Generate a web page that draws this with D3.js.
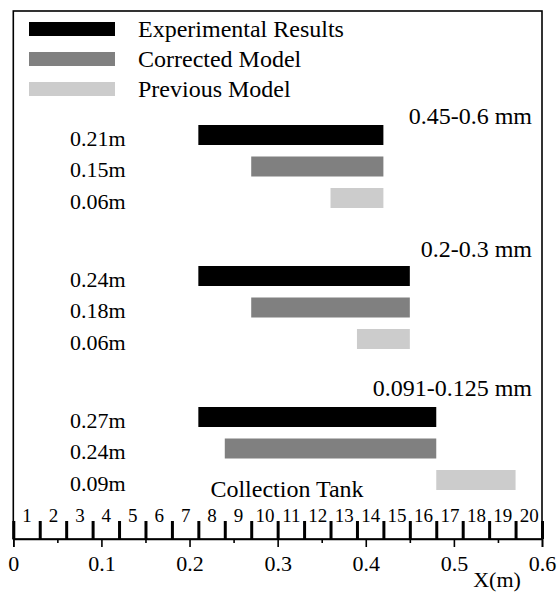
<!DOCTYPE html>
<html>
<head>
<meta charset="utf-8">
<script src="https://cdn.jsdelivr.net/npm/d3@7"></script>
<style>
  html, body { margin: 0; padding: 0; background: #fff; }
  svg { display: block; }
  text { font-family: "Liberation Serif", "Times New Roman", serif; fill: #000; }
</style>
</head>
<body>
<svg id="chart" width="557" height="592"></svg>
<script>
// Particle size classes (one block of bars per class)
const sizeClasses = ["0.45-0.6 mm", "0.2-0.3 mm", "0.091-0.125 mm"];
// Series shown in each block
const seriesNames = ["Experimental Results", "Corrected Model", "Previous Model"];
const seriesColors = ["#000000", "#808080", "#cccccc"];
// Deposition length of each series, per size class (m)
const experimentalLength = [0.21, 0.24, 0.27];
const correctedLength = [0.15, 0.18, 0.24];
const previousLength = [0.06, 0.06, 0.09];
// Downstream end of each deposition zone (m)
const experimentalEnd = [0.42, 0.45, 0.48];
const correctedEnd = [0.42, 0.45, 0.48];
const previousEnd = [0.42, 0.45, 0.57];
// Collection tanks along the channel
const tankWidth = 0.03;
const tankCount = 20;
const axisTicks = [0, 0.1, 0.2, 0.3, 0.4, 0.5, 0.6];
const minorTicks = [0.05, 0.15, 0.25, 0.35, 0.45, 0.55];

const svg = d3.select("#chart");
const frameLeft = 13.3, frameRight = 542, frameTop = 11, base = 539;

const x = d3.scaleLinear().domain([0, 0.6]).range([frameLeft, frameRight]);
const yGroup = d3.scalePoint().domain(sizeClasses).range([125, 407]);
const yRow = d3.scalePoint().domain(seriesNames).range([0, 63]);
const barH = 20;

const lengths = [experimentalLength, correctedLength, previousLength];
const ends = [experimentalEnd, correctedEnd, previousEnd];

const rows = [];
sizeClasses.forEach((g, gi) => {
  seriesNames.forEach((s, si) => {
    rows.push({ group: g, series: s, si, length: lengths[si][gi], end: ends[si][gi] });
  });
});

// frame
svg.append("rect")
  .attr("x", frameLeft).attr("y", frameTop)
  .attr("width", frameRight - frameLeft).attr("height", base - frameTop)
  .attr("fill", "none").attr("stroke", "#000").attr("stroke-width", 1.6);

// legend
const legend = svg.append("g");
seriesNames.forEach((s, i) => {
  const ly = 22 + i * 30;
  legend.append("rect").attr("x", 29).attr("y", ly).attr("width", 86).attr("height", 14)
    .attr("fill", seriesColors[i]);
  legend.append("text").attr("x", 138).attr("y", ly + 7).attr("dominant-baseline", "central")
    .attr("font-size", 24).text(s);
});

// size class titles
svg.selectAll("text.group").data(sizeClasses).join("text")
  .attr("class", "group")
  .attr("x", 532)
  .attr("y", (d, i) => [116, 249, 388][i])
  .attr("text-anchor", "end").attr("dominant-baseline", "central")
  .attr("font-size", 24).text(d => d);

// bars
svg.selectAll("rect.bar").data(rows).join("rect")
  .attr("class", "bar")
  .attr("x", d => x(d.end - d.length))
  .attr("width", d => x(d.end) - x(d.end - d.length))
  .attr("y", d => yGroup(d.group) + yRow(d.series))
  .attr("height", barH)
  .attr("fill", d => seriesColors[d.si]);

// length labels
svg.selectAll("text.len").data(rows).join("text")
  .attr("class", "len")
  .attr("x", 70)
  .attr("y", d => yGroup(d.group) + yRow(d.series) + barH / 2 + 3)
  .attr("dominant-baseline", "central")
  .attr("font-size", 22)
  .text(d => d3.format(".2f")(d.length) + "m");

// tank boundaries
const boundaries = d3.range(tankCount + 1).map(k => +(k * tankWidth).toFixed(2));
const tankAxis = svg.append("g").attr("transform", `translate(0,${base})`)
  .call(d3.axisTop(x).tickValues(boundaries).tickSize(18).tickFormat(""));
tankAxis.select(".domain").remove();
tankAxis.selectAll(".tick line").attr("stroke", "#000").attr("stroke-width", 3);

// tank numbers
const centers = d3.range(tankCount).map(k => (k + 0.5) * tankWidth);
const numAxis = svg.append("g").attr("transform", `translate(0,${base})`)
  .call(d3.axisTop(x).tickValues(centers).tickSize(0).tickFormat((d, i) => i + 1));
numAxis.select(".domain").remove();
numAxis.selectAll(".tick text")
  .attr("y", -24).attr("dy", null).attr("dominant-baseline", "central")
  .attr("font-family", null).attr("font-size", 19).attr("fill", "#000");

svg.append("text").attr("x", 287).attr("y", 489).attr("text-anchor", "middle")
  .attr("dominant-baseline", "central").attr("font-size", 24).text("Collection Tank");

// x axis
const minor = svg.append("g").attr("transform", `translate(0,${base})`)
  .call(d3.axisBottom(x).tickValues(minorTicks).tickSize(4).tickFormat(""));
minor.select(".domain").remove();
minor.selectAll(".tick line").attr("stroke", "#000").attr("stroke-width", 1.6);

const major = svg.append("g").attr("transform", `translate(0,${base})`)
  .call(d3.axisBottom(x).tickValues(axisTicks).tickSize(8).tickFormat(d => d === 0 ? "0" : d3.format(".1f")(d)));
major.select(".domain").attr("stroke", "#000").attr("stroke-width", 1.6);
major.selectAll(".tick line").attr("stroke", "#000").attr("stroke-width", 1.6);
major.selectAll(".tick text")
  .attr("y", 24).attr("dy", null).attr("dominant-baseline", "central")
  .attr("font-family", null).attr("font-size", 22).attr("fill", "#000");

svg.append("text").attr("x", 497).attr("y", 579).attr("text-anchor", "middle")
  .attr("dominant-baseline", "central").attr("font-size", 22).text("X(m)");
</script>
</body>
</html>
